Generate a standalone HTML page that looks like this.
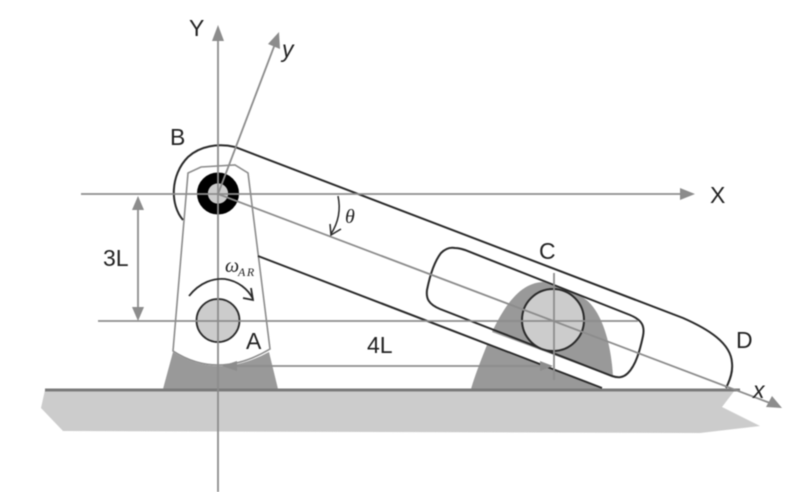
<!DOCTYPE html>
<html>
<head>
<meta charset="utf-8">
<style>
html,body{margin:0;padding:0;background:#fff;width:791px;height:492px;overflow:hidden}
svg{display:block;filter:blur(.4px)}
text{font-family:"Liberation Sans",sans-serif;fill:#222}
.i{font-style:italic}
.s{font-family:"Liberation Serif",serif;font-style:italic}
</style>
</head>
<body>
<svg width="791" height="492" viewBox="0 0 791 492" xmlns="http://www.w3.org/2000/svg">
<!-- ground -->
<polygon points="45,390 735,390 722,407 760,426 700,433 63,431 41,408" fill="#cccccc"/>
<!-- pedestal A -->
<path d="M163 389 L173 352 Q218 380 269 352 L278 389 Z" fill="#999"/>
<!-- pedestal C -->
<path d="M492 332 C505 305 520 283 543 282 L580 296 C600 305 611 340 613 377 Z" fill="#999"/>
<path d="M471 389 C475 375 481 360 487 345 L602 389 Z" fill="#999"/>
<line x1="45" y1="390" x2="740" y2="390" stroke="#7b7b7b" stroke-width="3"/>
<!-- link gray outline -->
<path d="M173 351 L188 173 L201 167 L235 165 L248 173 L270 349 Q218 380 173 351 Z" fill="none" stroke="#8c8c8c" stroke-width="1.600"/>
<!-- arm -->
<path d="M183 220 C170 205 170 175 188 157 C200 146 218 143 235 147 L683 318 C708 329 731 343 732 363 C733 372 730 380 726 388" fill="none" stroke="#2a2a2a" stroke-width="2"/>
<line x1="258" y1="256" x2="602" y2="388" stroke="#2a2a2a" stroke-width="2"/>
<!-- slot -->
<path d="M455 248 C459 248 462 249 465 250 L630 315 C642 320 645 326 643 336 C640 350 636 365 628 373 C623 378 618 378 612 376 L440 309 C428 304 426 298 427 290 C430 275 434 262 441 253 C445 249 450 247 455 248 Z" fill="none" stroke="#2a2a2a" stroke-width="2"/>
<!-- pins -->
<circle cx="218" cy="193.500" r="15.500" fill="none" stroke="#000" stroke-width="11"/>
<circle cx="218" cy="193.500" r="10" fill="#ccc"/>
<circle cx="218" cy="320.500" r="21.500" fill="#ccc" stroke="#2a2a2a" stroke-width="1.800"/>
<circle cx="553" cy="320" r="31" fill="#ccc" stroke="#2a2a2a" stroke-width="2"/>
<!-- axes -->
<g stroke="#8c8c8c" stroke-width="1.800" fill="none">
<line x1="218" y1="492" x2="218" y2="38"/>
<line x1="218" y1="194" x2="275" y2="44"/>
<line x1="81" y1="194" x2="684" y2="194"/>
<line x1="218" y1="194" x2="770" y2="403"/>
<line x1="98" y1="321" x2="638" y2="321"/>
<line x1="554" y1="273" x2="554" y2="380"/>
<line x1="235" y1="366" x2="542" y2="366"/>
<line x1="138" y1="208" x2="138" y2="310"/>
</g>
<g fill="#8c8c8c">
<polygon points="218,25 212,41 224,41"/>
<polygon points="279,32 268,44 280,49"/>
<polygon points="695,194 680,188 680,200"/>
<polygon points="782,408 772,396 766,407"/>
<polygon points="222,366 237,361 237,371"/>
<polygon points="553,366 540,361 540,371"/>
<polygon points="138,196 132,210 144,210"/>
<polygon points="138,321 132,307 144,307"/>
</g>
<!-- rotation arrows -->
<path d="M189 296 C200 282 214 278 225 279 C238 281 248 289 253 299" fill="none" stroke="#2a2a2a" stroke-width="1.800"/>
<path d="M243 298 L253 300 L251 288" fill="none" stroke="#2a2a2a" stroke-width="1.800"/>
<path d="M338 196 C341 210 338 223 331 234" fill="none" stroke="#2a2a2a" stroke-width="1.500"/>
<path d="M330 224 L331 235 L341 229" fill="none" stroke="#2a2a2a" stroke-width="1.500"/>
<!-- labels -->
<text x="189" y="36" font-size="23">Y</text>
<text class="i" x="282" y="57" font-size="23">y</text>
<text x="170" y="145" font-size="23">B</text>
<text x="710" y="203" font-size="23">X</text>
<text x="103" y="266" font-size="23">3L</text>
<text x="246" y="349" font-size="23">A</text>
<text x="367" y="353" font-size="23">4L</text>
<text x="539" y="259" font-size="23">C</text>
<text x="736" y="348" font-size="23">D</text>
<text class="i" x="753" y="398" font-size="23">x</text>
<text class="s" x="345" y="223" font-size="20">θ</text>
<text class="s" x="225" y="272" font-size="20">ω</text>
<text class="s" x="238" y="276" font-size="12" letter-spacing="1.500">AR</text>
</svg>
</body>
</html>
